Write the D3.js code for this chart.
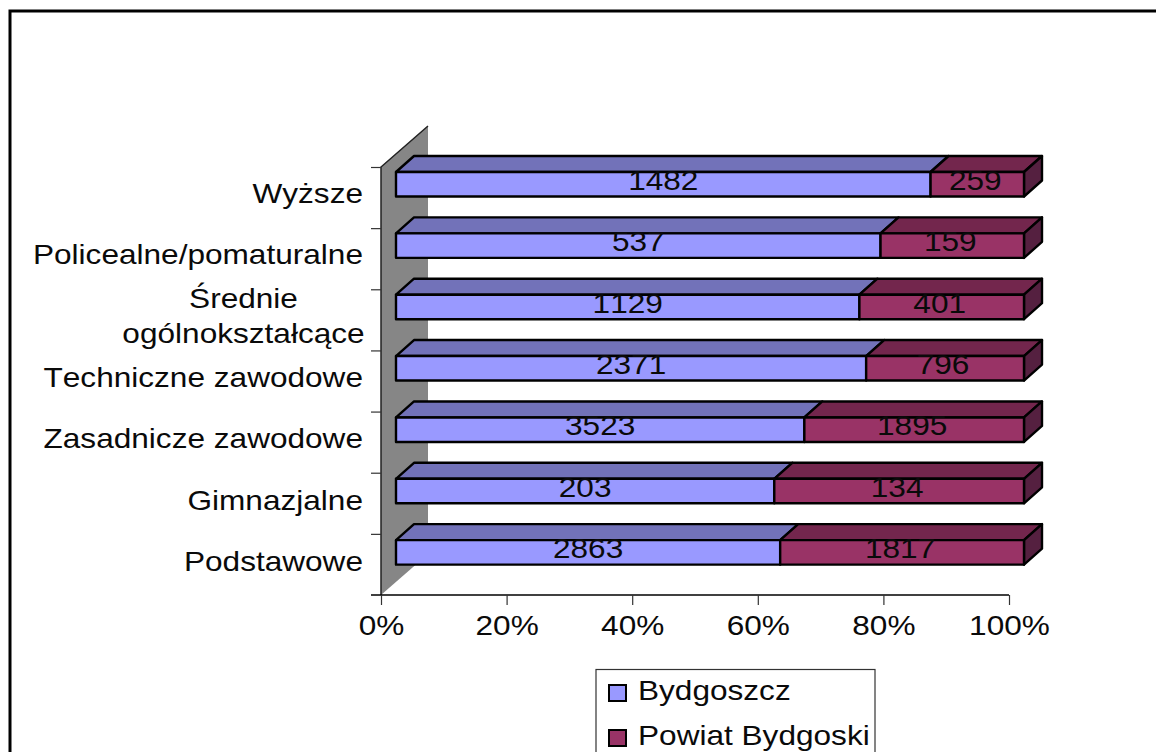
<!DOCTYPE html>
<html>
<head>
<meta charset="utf-8">
<script src="https://cdn.jsdelivr.net/npm/d3@7"></script>
<style>
body { margin: 0; background: #fff; overflow: hidden; }
text { font-family: "Liberation Sans", Arial, sans-serif; fill: #0a0a0a; font-kerning: none; }
</style>
</head>
<body>
<div id="chart"></div>
<script>
const categories = ["Podstawowe", "Gimnazjalne", "Zasadnicze zawodowe", "Techniczne zawodowe", "Średnie|ogólnokształcące", "Policealne/pomaturalne", "Wyższe"]
const bydgoszcz = [2863, 203, 3523, 2371, 1129, 537, 1482]
const powiat = [1817, 134, 1895, 796, 401, 159, 259]
const xTicks = [0, 0.2, 0.4, 0.6, 0.8, 1]
const seriesNames = ["Bydgoszcz", "Powiat Bydgoski"]

const WIDTH = 1156, HEIGHT = 752
const FONT = 27
const STRETCH = 1.17           // the source text is drawn wider than the font
const DX = 18, DY = -16        // bar depth
const WALL_DX = 47, WALL_DY = -41
const BAR_H = 24.5, BAR_SHIFT = 15

const colors = [
	{ front: "#9999ff", top: "#7272b9" },
	{ front: "#993366", top: "#73264d", side: "#552040" }
]

const wide = (x, y) => `translate(${x}, ${y}) scale(${STRETCH}, 1)`

const svg = d3.select("#chart").append("svg")
	.attr("width", WIDTH)
	.attr("height", HEIGHT)

// frame, cut off at the right and bottom
svg.append("path")
	.attr("d", `M10,${HEIGHT}V11H${WIDTH}`)
	.attr("fill", "none").attr("stroke", "#000").attr("stroke-width", 3)

const x = d3.scaleLinear().domain([0, 1]).range([381, 1009])
const y = d3.scaleBand().domain(d3.range(categories.length)).range([601.5, 172])
const yEdge = d3.scaleLinear().domain([0, categories.length]).range([595, 167])

// side wall
svg.append("path")
	.attr("d", d3.line()([
		[x(0), yEdge(7)], [x(0) + WALL_DX, yEdge(7) + WALL_DY],
		[x(0) + WALL_DX, yEdge(0) + WALL_DY], [x(0), yEdge(0)]
	]) + "Z")
	.attr("fill", "#868686")
svg.append("path")
	.attr("d", d3.line()([[x(0), yEdge(0)], [x(0), yEdge(7)], [x(0) + WALL_DX, yEdge(7) + WALL_DY]]))
	.attr("fill", "none").attr("stroke", "#222").attr("stroke-width", 1.5)

// axes
const xAxis = svg.append("g")
	.attr("transform", `translate(0, ${yEdge(0)})`)
	.call(d3.axisBottom(x).tickValues(xTicks).tickSize(10).tickSizeOuter(0).tickFormat(d3.format(".0%")))
xAxis.select(".domain").attr("stroke", "#000").attr("stroke-width", 1.5).attr("d", `M371,0H${x(1)}`)
xAxis.selectAll("line").attr("stroke", "#333").attr("stroke-width", 1.2)
xAxis.selectAll("text")
	.attr("font-size", FONT)
	.attr("font-family", '"Liberation Sans"')
	.attr("dy", 0).attr("y", 0)
	.attr("transform", wide(0, 40))

const yAxis = svg.append("g")
	.attr("transform", `translate(${x(0)}, 0)`)
	.call(d3.axisLeft(yEdge).tickValues(d3.range(1, 8)).tickSize(10).tickSizeOuter(0).tickFormat(""))
yAxis.select(".domain").remove()
yAxis.selectAll("line").attr("stroke", "#333").attr("stroke-width", 1.2)

// category labels
svg.append("g").selectAll("g")
	.data(categories)
	.enter().append("g")
	.each(function(d, i) {
		const lines = d.split("|")
		const g = d3.select(this)
		const base = y(i) + 31
		if (lines.length === 1) {
			g.append("text")
				.attr("transform", wide(363, base))
				.attr("text-anchor", "end").attr("font-size", FONT).text(d)
		} else {
			lines.forEach((line, k) => {
				g.append("text")
					.attr("transform", wide(243.5, base + (k - 0.5) * 35))
					.attr("text-anchor", "middle").attr("font-size", FONT).text(line)
			})
		}
	})

// bars
const bars = svg.append("g").selectAll("g")
	.data(categories.map((c, i) => i))
	.enter().append("g")

function box(g, i, x0, x1, c, withSide) {
	const top = y(i), bottom = top + BAR_H
	const poly = (pts, fill) => g.append("path")
		.attr("d", d3.line()(pts) + "Z")
		.attr("fill", fill)
		.attr("stroke", "#000")
		.attr("stroke-width", 2.4)
		.attr("stroke-linejoin", "round")
	poly([[x0, top], [x0 + DX, top + DY], [x1 + DX, top + DY], [x1, top]], c.top)
	if (withSide) poly([[x1, top], [x1 + DX, top + DY], [x1 + DX, bottom + DY], [x1, bottom]], c.side)
	poly([[x0, top], [x1, top], [x1, bottom], [x0, bottom]], c.front)
}

bars.each(function(i) {
	const g = d3.select(this)
	const share = bydgoszcz[i] / (bydgoszcz[i] + powiat[i])
	const w = d3.scaleLinear().domain([0, 1]).range([x(0) + BAR_SHIFT, x(1) + BAR_SHIFT])
	box(g, i, w(0), w(share), colors[0], false)
	box(g, i, w(share), w(1), colors[1], true)
	const ty = y(i) + 18
	g.append("text").attr("transform", wide(w(share / 2), ty))
		.attr("text-anchor", "middle").attr("font-size", FONT).text(bydgoszcz[i])
	g.append("text").attr("transform", wide(w(share + (1 - share) / 2) - 2, ty))
		.attr("text-anchor", "middle").attr("font-size", FONT).text(powiat[i])
})

// legend
const legend = svg.append("g")
legend.append("rect")
	.attr("x", 596).attr("y", 669.5).attr("width", 279).attr("height", 100)
	.attr("fill", "#fff").attr("stroke", "#333").attr("stroke-width", 1.2)
seriesNames.forEach((name, i) => {
	const ly = 693 + i * 45
	legend.append("rect")
		.attr("x", 609).attr("y", ly - 8).attr("width", 17).attr("height", 16)
		.attr("fill", colors[i].front).attr("stroke", "#000").attr("stroke-width", 2)
	legend.append("text")
		.attr("transform", wide(638, ly + 7))
		.attr("font-size", FONT).text(name)
})
</script>
</body>
</html>
